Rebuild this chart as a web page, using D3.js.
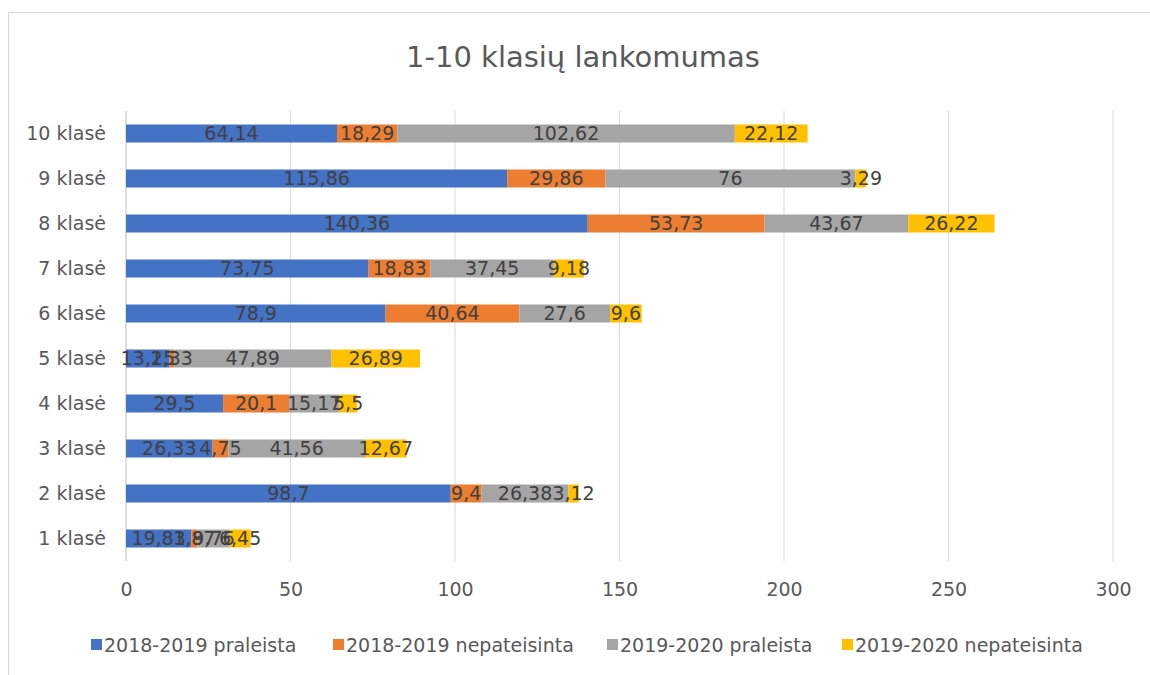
<!DOCTYPE html>
<html><head><meta charset="utf-8">
<script src="https://cdn.jsdelivr.net/npm/d3@7"></script>
<style>body{margin:0;background:#fff;}svg{display:block;}</style>
</head><body>
<svg id="chart" width="1150" height="675"></svg>
<script>
const categories = ["10 klasė","9 klasė","8 klasė","7 klasė","6 klasė","5 klasė","4 klasė","3 klasė","2 klasė","1 klasė"];
const seriesNames = ["2018-2019 praleista","2018-2019 nepateisinta","2019-2020 praleista","2019-2020 nepateisinta"];
const praleista1819 = [64.14,115.86,140.36,73.75,78.9,13.25,29.5,26.33,98.7,19.83];
const nepateisinta1819 = [18.29,29.86,53.73,18.83,40.64,1.33,20.1,4.75,9.4,1.87];
const praleista1920 = [102.62,76,43.67,37.45,27.6,47.89,15.17,41.56,26.38,9.76];
const nepateisinta1920 = [22.12,3.29,26.22,9.18,9.6,26.89,5.5,12.67,3.12,6.45];
const xTicks = [0,50,100,150,200,250,300];
const colors = ["#4472C4","#ED7D31","#A5A5A5","#FFC000"];

const font = "'DejaVu Sans', sans-serif";
const fs = 19;
const svg = d3.select("#chart");
svg.append("rect").attr("x",8.5).attr("y",12.5).attr("width",1160).attr("height",680)
  .attr("fill","#fff").attr("stroke","#d9d9d9");

svg.append("text").attr("x",583).attr("y",67).attr("text-anchor","middle")
  .attr("font-family",font).attr("font-size",29).attr("fill","#595959").text("1-10 klasių lankomumas");

const m = {left:126, right:1113, top:111, bottom:561};
const x = d3.scaleLinear().domain([0,300]).range([m.left,m.right]);
const y = d3.scaleBand().domain(categories).range([m.top,m.bottom]).paddingInner(0.6).paddingOuter(0.3);

const rows = categories.map((c,i)=>({cat:c, vals:[praleista1819[i],nepateisinta1819[i],praleista1920[i],nepateisinta1920[i]]}));
const stack = d3.stack().keys([0,1,2,3]).value((d,k)=>d.vals[k]);
const stacked = stack(rows);

// grid
svg.append("g").selectAll("line").data(xTicks).join("line")
  .attr("x1",d=>x(d)).attr("x2",d=>x(d)).attr("y1",m.top).attr("y2",m.bottom)
  .attr("stroke",d=>d===0?"#bfbfbf":"#d9d9d9").attr("stroke-width",1);

// x axis labels
const xa = svg.append("g").attr("transform",`translate(0,${m.bottom})`)
  .call(d3.axisBottom(x).tickValues(xTicks).tickSize(0).tickPadding(22).tickFormat(d3.format("d")));
xa.select(".domain").remove();
xa.selectAll("text").attr("font-family",font).attr("font-size",fs).attr("fill","#595959");

// y axis labels
const ya = svg.append("g").attr("transform",`translate(${m.left},0)`)
  .call(d3.axisLeft(y).tickSize(0).tickPadding(20));
ya.select(".domain").remove();
ya.selectAll("text").attr("font-family",font).attr("font-size",fs).attr("fill","#595959");

// bars
const g = svg.append("g");
stacked.forEach((s,k)=>{
  g.append("g").selectAll("rect").data(s).join("rect")
    .attr("x",d=>x(d[0])).attr("width",d=>x(d[1])-x(d[0]))
    .attr("y",d=>y(d.data.cat)).attr("height",y.bandwidth())
    .attr("fill",colors[k]);
});
stacked.forEach((s,k)=>{
  g.append("g").selectAll("text").data(s).join("text")
    .attr("x",d=>(x(d[0])+x(d[1]))/2).attr("y",d=>y(d.data.cat)+y.bandwidth()/2)
    .attr("dy","0.36em").attr("text-anchor","middle")
    .attr("font-family",font).attr("font-size",fs).attr("fill","#404040")
    .text(d=>String(d.data.vals[k]).replace(".",","));
});

// legend
const legendX = [91,333,607,842];
const lg = svg.append("g");
seriesNames.forEach((n,i)=>{
  lg.append("rect").attr("x",legendX[i]).attr("y",639).attr("width",11).attr("height",11).attr("fill",colors[i]);
  lg.append("text").attr("x",legendX[i]+13).attr("y",645).attr("dy","0.36em")
    .attr("font-family",font).attr("font-size",fs).attr("fill","#595959").text(n);
});
</script>
</body></html>
